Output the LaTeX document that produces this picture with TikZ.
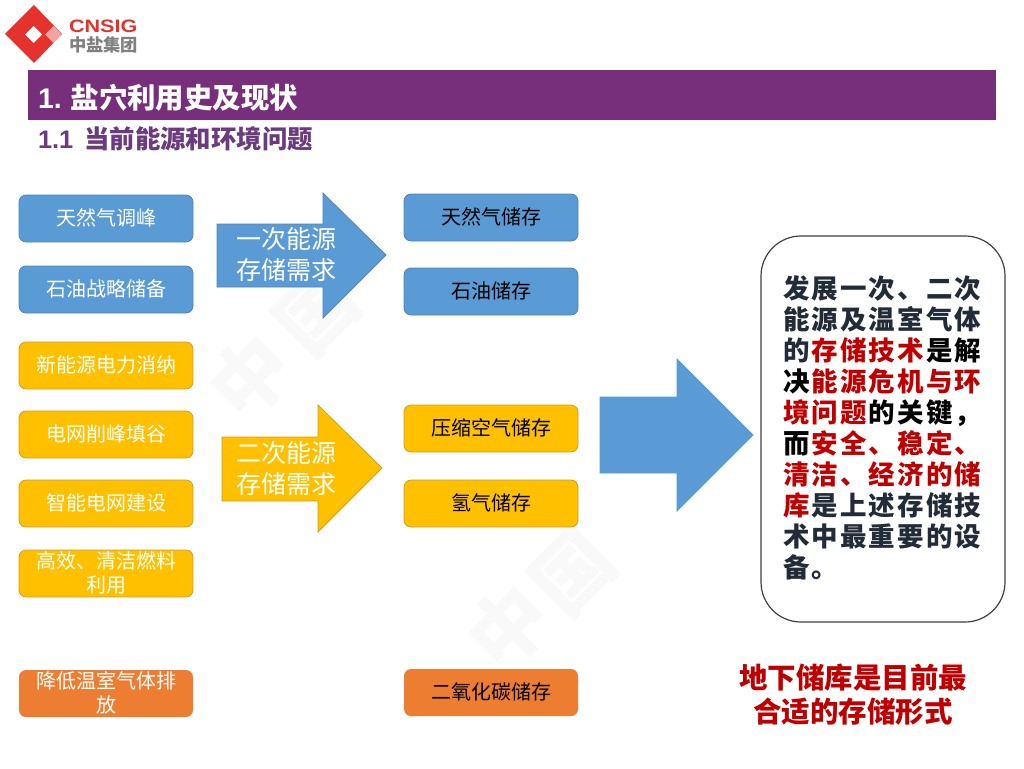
\documentclass[tikz,border=0pt]{standalone}
\usepackage{fontspec}
\setmainfont{Noto Sans CJK SC}
\newfontfamily\tightcjk[LetterSpace=8]{Noto Sans CJK SC}
\newfontfamily\latinfont{Liberation Sans}
\definecolor{barpurple}{HTML}{772F7C}
\definecolor{subpurple}{HTML}{6B3A80}
\definecolor{bluefill}{HTML}{5B9BD5}
\definecolor{blueedge}{HTML}{4F86B8}
\definecolor{goldfill}{HTML}{FFC000}
\definecolor{goldedge}{HTML}{CFA020}
\definecolor{orangefill}{HTML}{ED7D31}
\definecolor{logored}{HTML}{E5322D}
\definecolor{logogray}{HTML}{808080}
\definecolor{darktext}{HTML}{222B38}
\definecolor{alertred}{HTML}{C00000}
\definecolor{markgray}{HTML}{F9F9F9}
\newcommand{\redrun}[1]{\textcolor{alertred}{#1}\kern2.1pt}
\newcommand{\blackrun}[1]{\textcolor{black}{#1}\kern2.1pt}
\tikzset{
  every node/.style={inner sep=0pt,outer sep=0pt},
  boxbase/.style={rounded corners=7pt,minimum width=174pt,minimum height=47pt,align=center,text width=160pt,font=\fontsize{20}{24}\selectfont,execute at end node={\par\vspace{1.6pt}}},
  bluebox/.style={boxbase,fill=bluefill,draw=blueedge,line width=0.8pt},
  goldbox/.style={boxbase,fill=goldfill,draw=goldedge,line width=0.8pt},
  orangebox/.style={boxbase,fill=orangefill},
  whitetext/.style={text=white},
  blacktext/.style={text=black},
  bigarrow/.style={line width=0.8pt},
  arrowtext/.style={text=white,align=center,font=\fontsize{25}{31}\selectfont},
  watermark/.style={text=markgray,rotate=45,font=\bfseries\fontsize{78}{78}\selectfont},
}
\begin{document}
\begin{tikzpicture}[x=1pt,y=-1pt]
\useasboundingbox (0,0) rectangle (1024,768);
\fill[white] (0,0) rectangle (1024,768);
% faint watermark
\node[watermark] (wm1) at (250,377) {中};
\node[watermark] (wm2) at (317,313) {国};
\node[watermark] (wm3) at (508,627) {中};
\node[watermark] (wm4) at (573,573) {国};
% logo
\fill[logored] (5,34) -- (34,5) -- (62,34) -- (34,63) -- cycle;
\fill[white] (25,34.5) -- (33.5,26) -- (42,34.5) -- (33.5,43) -- cycle;
\fill[white!55!logored] (45,34.5) -- (53.5,26) -- (62,34.5) -- (53.5,43) -- cycle;
\node[anchor=west,text=logored,transform shape,xscale=1.2,font=\latinfont\bfseries\fontsize{18}{18}\selectfont] (logoen) at (69,26) {CNSIG};
\node[anchor=west,text=logogray,font=\bfseries\fontsize{17.3}{17.3}\selectfont] (logocn) at (69,44.5) {中盐集团};
% title
\fill[barpurple] (28,70) rectangle (996,120);
\node[anchor=west,text=white,font=\bfseries\fontsize{28.4}{28.4}\selectfont] (title) at (38,98) {{\latinfont 1.}\kern9pt 盐穴利用史及现状};
\node[anchor=west,text=subpurple,font=\bfseries\fontsize{25.4}{25.4}\selectfont] (subtitle) at (38,139) {{\latinfont 1.1}\kern11pt 当前能源和环境问题};
% left boxes
\node[bluebox,whitetext] (a1) at (106,218.5) {天然气调峰};
\node[bluebox,whitetext] (a2) at (106,289.5) {石油战略储备};
\node[goldbox,whitetext] (a3) at (106,365.5) {新能源电力消纳};
\node[goldbox,whitetext] (a4) at (106,434.5) {电网削峰填谷};
\node[goldbox,whitetext] (a5) at (106,503.5) {智能电网建设};
\node[goldbox,whitetext] (a6) at (106,573.5) {高效、清洁燃料\\利用};
\node[orangebox,whitetext] (a7) at (106,693.5) {降低温室气体排\\放};
% right boxes
\node[bluebox,blacktext] (b1) at (491,217.5) {天然气储存};
\node[bluebox,blacktext] (b2) at (491,291.5) {石油储存};
\node[goldbox,blacktext] (b3) at (491,428.5) {压缩空气储存};
\node[goldbox,blacktext] (b4) at (491,503.5) {氢气储存};
\node[orangebox,blacktext] (b5) at (491,692.5) {二氧化碳储存};
% arrows
\draw[bigarrow,fill=bluefill,draw=blueedge] (217,224) -- (323,224) -- (323,193) -- (386,255) -- (323,318) -- (323,287) -- (217,287) -- cycle;
\node[arrowtext] (m1) at (286,254) {一次能源\\存储需求};
\draw[bigarrow,fill=goldfill,draw=goldedge] (222,437) -- (318,437) -- (318,405) -- (382,468) -- (318,532) -- (318,501) -- (222,501) -- cycle;
\node[arrowtext] (m2) at (286,468) {二次能源\\存储需求};
\draw[bigarrow,fill=bluefill,draw=bluefill] (600,397) -- (677,397) -- (677,359) -- (753,435) -- (677,511) -- (677,473) -- (600,473) -- cycle;
% summary
\node[draw=black!75,line width=1.2pt,rounded corners=40pt,minimum width=244pt,minimum height=386pt,fill=white] (sum) at (883,429) {};
\node[anchor=north west,align=left,text=darktext,font=\tightcjk\bfseries\fontsize{26.5}{30.9}\selectfont] (sumtext) at (783,276) {%
发展一次、二次\\
能源及温室气体\\
的\kern2.1pt\redrun{存储技术}\blackrun{是解}\\
\blackrun{决}\redrun{能源危机与环}\\
\redrun{境问题}\blackrun{的关键，}\\
\blackrun{而}\redrun{安全、稳定、}\\
\redrun{清洁、经济的储}\\
\redrun{库}是上述存储技\\
术中最重要的设\\
备。};
\node[align=center,text=alertred,font=\bfseries\fontsize{28.5}{34}\selectfont] (foot) at (853,694.5) {地下储库是目前最\\合适的存储形式};
\end{tikzpicture}
\end{document}
